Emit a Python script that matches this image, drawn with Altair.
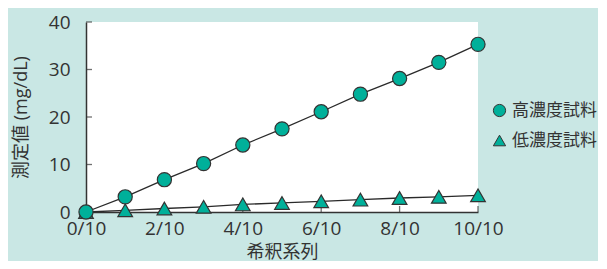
import json
import altair as alt
import pandas as pd

# ---- data ----
dilution = [0, 1, 2, 3, 4, 5, 6, 7, 8, 9, 10]
high_values = [0.0, 3.2, 6.8, 10.2, 14.1, 17.5, 21.1, 24.8, 28.1, 31.5, 35.3]
low_values = [0.0, 0.35, 0.74, 1.1, 1.6, 1.9, 2.25, 2.6, 2.95, 3.2, 3.5]
series_names = ["高濃度試料", "低濃度試料"]
series_shapes = ["circle", "triangle-up"]
x_ticks = [0, 2, 4, 6, 8, 10]
x_tick_labels = ["0/10", "2/10", "4/10", "6/10", "8/10", "10/10"]
y_ticks = [0, 10, 20, 30, 40]
y_inner_ticks = [10, 20, 30, 40]

BG = "#c9e7e4"
TEAL = "#00b09a"
DARK = "#333333"
FONT = "Open Sans, Noto Sans CJK JP"

df = pd.DataFrame({
    "x": dilution * 2,
    "y": high_values + low_values,
    "series": [series_names[0]] * len(dilution) + [series_names[1]] * len(dilution),
})
xt = pd.DataFrame({"x": x_ticks, "y": [0] * len(x_ticks)})
yt = pd.DataFrame({"x": [0] * len(y_inner_ticks), "y": y_inner_ticks})

label_map = json.dumps({str(k): v for k, v in zip(x_ticks, x_tick_labels)}, ensure_ascii=False)

x_axis = alt.Axis(
    values=x_ticks, labelExpr=f"{label_map}[''+datum.value]", ticks=False, grid=False,
    domainColor=DARK, domainWidth=1.5, labelFontSize=19, labelColor=DARK, labelPadding=7,
    labelFont=FONT, labelFlush=False, title="希釈系列", titleFont=FONT, titleFontSize=18,
    titleFontWeight="normal", titleColor=DARK, titlePadding=5,
)
y_axis = alt.Axis(
    values=y_ticks, ticks=False, grid=False, domainColor=DARK, domainWidth=1.5,
    labelFontSize=19, labelColor=DARK, labelPadding=16, labelFont=FONT,
    title="測定値 (mg/dL)", titleFont=FONT, titleFontSize=18, titleFontWeight="normal",
    titleColor=DARK, titlePadding=18,
)
x_enc = alt.X("x:Q", scale=alt.Scale(domain=[0, 10], nice=False), axis=x_axis)
y_enc = alt.Y("y:Q", scale=alt.Scale(domain=[0, 40], nice=False), axis=y_axis)


def make_legend():
    return alt.Legend(
        title=None, orient="none", legendX=405, legendY=80, symbolSize=150,
        symbolStrokeWidth=1, symbolOpacity=1,
        labelFont=FONT, labelFontSize=17, labelColor=DARK, labelOffset=4,
        rowPadding=12, padding=0,
    )


shape_enc = alt.Shape("series:N", scale=alt.Scale(domain=series_names, range=series_shapes),
                      legend=make_legend())
fill_enc = alt.Fill("series:N", scale=alt.Scale(domain=series_names, range=[TEAL, TEAL]),
                    legend=make_legend())
stroke_enc = alt.Stroke("series:N", scale=alt.Scale(domain=series_names, range=[DARK, DARK]),
                        legend=make_legend())

lines = alt.Chart(df).mark_line(color="#2a2a2a", strokeWidth=1.3).encode(
    x=x_enc, y=y_enc, detail="series:N"
)
xticks = alt.Chart(xt).mark_tick(orient="vertical", size=6, thickness=1.3, color=DARK, yOffset=-3).encode(
    x=x_enc, y=y_enc
)
yticks = alt.Chart(yt).mark_tick(orient="horizontal", size=6, thickness=1.3, color=DARK, xOffset=3).encode(
    x=x_enc, y=y_enc
)
low_pts = alt.Chart(df).transform_filter(alt.datum.series == series_names[1]).mark_point(
    filled=True, strokeWidth=1.2, size=215, opacity=1, fillOpacity=1
).encode(x=x_enc, y=y_enc, shape=shape_enc, fill=fill_enc, stroke=stroke_enc)
high_pts = alt.Chart(df).transform_filter(alt.datum.series == series_names[0]).mark_point(
    filled=True, strokeWidth=1.2, size=200, opacity=1, fillOpacity=1
).encode(x=x_enc, y=y_enc, shape=shape_enc, fill=fill_enc, stroke=stroke_enc)

chart = alt.layer(lines, xticks, yticks, low_pts, high_pts).properties(
    width=392, height=190,
    background=BG,
    padding={"left": 78, "top": 14, "right": 120, "bottom": 49},
    autosize=alt.AutoSizeParams(type="none"),
).configure_view(fill="white", stroke=None)

chart.save("out.html", embed_options={"renderer": "svg", "actions": False})
